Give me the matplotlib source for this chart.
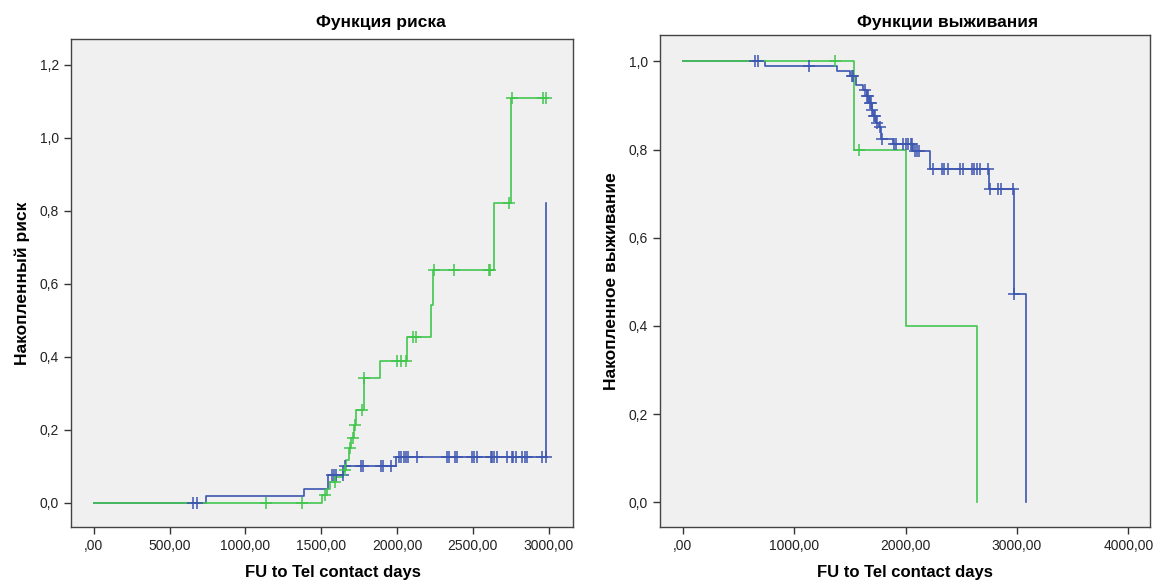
import numpy as np
import matplotlib
matplotlib.use("Agg")
import matplotlib.pyplot as plt

plt.rcParams['font.family'] = ['Liberation Sans', 'DejaVu Sans']

BLUE = '#3d56b0'
GREEN = '#42c64e'
BG = '#f0f0f0'

# ---- cumulative hazard (left) ----
risk_green_t = [0, 1508, 1539, 1556, 1596, 1644, 1666, 1684, 1699, 1715, 1732, 1781, 1889,
                2068, 2227, 2237, 2640, 2750]
risk_green_v = [0.0, 0.022, 0.037, 0.058, 0.072, 0.09, 0.118, 0.15, 0.177, 0.214, 0.255,
                0.342, 0.39, 0.455, 0.542, 0.638, 0.821, 1.108]
risk_green_end = 2985
risk_green_cens = [1139, 1370, 1525, 1589, 1655, 1690, 1708, 1725, 1768, 1781, 2001, 2029,
                   2058, 2106, 2122, 2244, 2376, 2605, 2612, 2739, 2761, 2963, 2985]

risk_blue_t = [0, 739, 1387, 1546, 1645, 1995, 2985]
risk_blue_v = [0.0, 0.02, 0.039, 0.077, 0.1, 0.127, 0.822]
risk_blue_end = 2985
risk_blue_cens = [655, 681, 1574, 1585, 1596, 1644, 1657, 1761, 1776, 1897, 1908, 1963, 2014,
                  2029, 2044, 2058, 2073, 2132, 2326, 2341, 2381, 2396, 2491, 2506, 2524,
                  2618, 2629, 2640, 2660, 2728, 2755, 2766, 2781, 2827, 2843, 2858, 2957, 2979]

# ---- survival (right) ----
surv_green_t = [0, 1540, 2001, 2638]
surv_green_v = [1.0, 0.8, 0.4, 0.0]
surv_green_end = 2638
surv_green_cens = [1367, 1582]

surv_blue_t = [0, 739, 1382, 1500, 1556, 1615, 1650, 1675, 1696, 1711, 1735, 1765, 1777,
               1885, 2070, 2220, 2752, 2977, 3081]
surv_blue_v = [1.0, 0.989, 0.979, 0.968, 0.947, 0.936, 0.921, 0.906, 0.891, 0.876, 0.861,
               0.851, 0.825, 0.812, 0.798, 0.755, 0.71, 0.473, 0.0]
surv_blue_end = 3081
surv_blue_cens = [649, 679, 1137, 1517, 1532, 1640, 1655, 1662, 1680, 1690, 1702, 1715, 1728,
                  1745, 1770, 1786, 1896, 1915, 1980, 2004, 2025, 2046, 2062, 2083, 2104,
                  2122, 2249, 2325, 2345, 2384, 2489, 2513, 2594, 2614, 2639, 2668, 2743,
                  2758, 2833, 2854, 2967, 2978]

risk_xticks = [0, 500, 1000, 1500, 2000, 2500, 3000]
risk_xlabels = [',00', '500,00', '1000,00', '1500,00', '2000,00', '2500,00', '3000,00']
risk_yticks = [0.0, 0.2, 0.4, 0.6, 0.8, 1.0, 1.2]
risk_ylabels = ['0,0', '0,2', '0,4', '0,6', '0,8', '1,0', '1,2']
surv_xticks = [0, 1000, 2000, 3000, 4000]
surv_xlabels = [',00', '1000,00', '2000,00', '3000,00', '4000,00']
surv_yticks = [0.0, 0.2, 0.4, 0.6, 0.8, 1.0]
surv_ylabels = ['0,0', '0,2', '0,4', '0,6', '0,8', '1,0']


def draw_km(ax, t, v, end, cens, color):
    xs = list(t) + [end]
    ys = list(v) + [v[-1]]
    ax.step(xs, ys, where='post', color=color, lw=1.2, zorder=3)
    t_arr = np.array(t)
    idx = np.searchsorted(t_arr, cens, side='right') - 1
    cy = np.array(v)[idx]
    ax.plot(cens, cy, ls='none', marker='+', ms=8, mew=1.1, color=color, zorder=4)


def style(ax, xt, xl, yt, yl):
    ax.set_facecolor(BG)
    for s in ax.spines.values():
        s.set_color('#444444')
        s.set_linewidth(1.0)
    ax.set_xticks(xt)
    ax.set_xticklabels(xl)
    ax.set_yticks(yt)
    ax.set_yticklabels(yl)
    ax.tick_params(direction='out', length=5, width=1, color='#333333',
                   labelsize=10, labelcolor='#222222')


fig = plt.figure(figsize=(11.53, 5.81), dpi=100)

ax1 = fig.add_axes([71 / 1153, 1 - 527 / 581, (573 - 71) / 1153, (527 - 39) / 581])
draw_km(ax1, risk_blue_t, risk_blue_v, risk_blue_end, risk_blue_cens, BLUE)
draw_km(ax1, risk_green_t, risk_green_v, risk_green_end, risk_green_cens, GREEN)
style(ax1, risk_xticks, risk_xlabels, risk_yticks, risk_ylabels)
ax1.set_xlim(-150, 3160)
ax1.set_ylim(-0.066, 1.271)
ax1.set_ylabel('Накопленный риск', fontsize=12.5, fontweight='bold', labelpad=7)
fig.text(333 / 1153, 1 - 572 / 581, 'FU to Tel contact days', ha='center', va='center',
         fontsize=12, fontweight='bold')
fig.text(381 / 1153, 1 - 22 / 581, 'Функция риска', ha='center', va='center',
         fontsize=12.5, fontweight='bold')

ax2 = fig.add_axes([660 / 1153, 1 - 527 / 581, (1150 - 660) / 1153, (527 - 35) / 581])
draw_km(ax2, surv_blue_t, surv_blue_v, surv_blue_end, surv_blue_cens, BLUE)
draw_km(ax2, surv_green_t, surv_green_v, surv_green_end, surv_green_cens, GREEN)
style(ax2, surv_xticks, surv_xlabels, surv_yticks, surv_ylabels)
ax2.set_xlim(-204, 4195)
ax2.set_ylim(-0.056, 1.06)
ax2.set_ylabel('Накопленное выживание', fontsize=12.5, fontweight='bold', labelpad=7)
fig.text(905 / 1153, 1 - 572 / 581, 'FU to Tel contact days', ha='center', va='center',
         fontsize=12, fontweight='bold')
fig.text(948 / 1153, 1 - 22 / 581, 'Функции выживания', ha='center', va='center',
         fontsize=12.5, fontweight='bold')

fig.savefig('out.png', dpi=100, facecolor='white')
